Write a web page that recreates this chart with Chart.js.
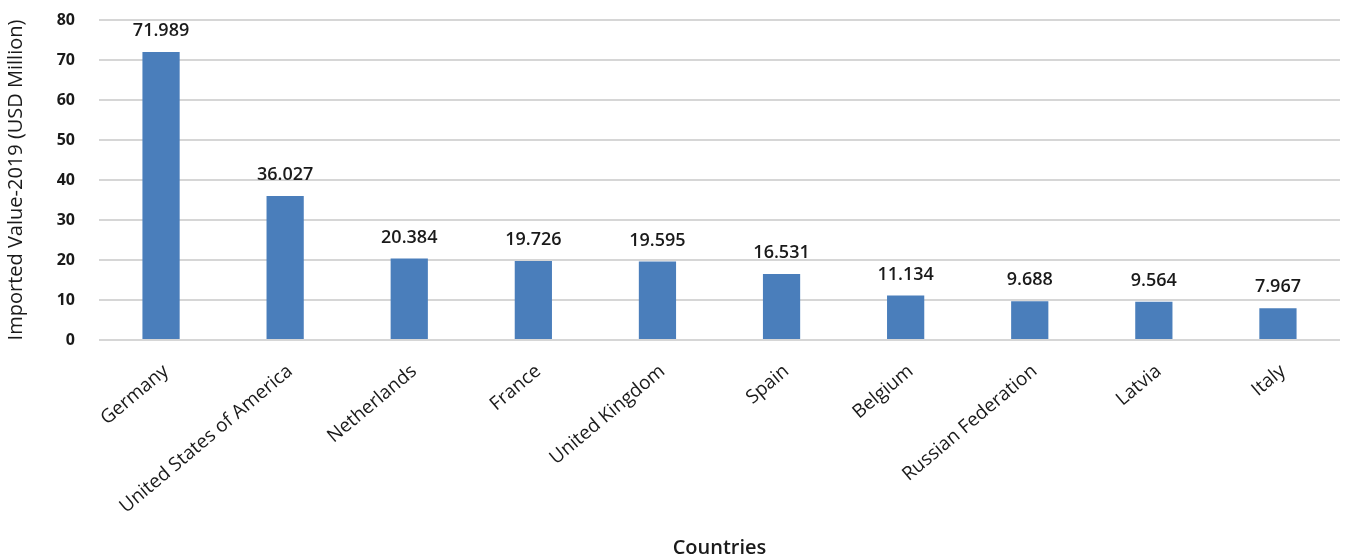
<!DOCTYPE html>
<html>
<head>
<meta charset="utf-8">
<script src="https://cdn.jsdelivr.net/npm/chart.js@4/dist/chart.umd.min.js"></script>
<style>
  html, body { margin: 0; padding: 0; background: #fff; }
  #wrap { width: 1345px; height: 560px; position: relative; }
</style>
</head>
<body>
<div id="wrap"><canvas id="importChart"></canvas></div>
<script>
// Datos
const countries = ['Germany', 'United States of America', 'Netherlands', 'France', 'United Kingdom',
  'Spain', 'Belgium', 'Russian Federation', 'Latvia', 'Italy'];
const importedValues = [71.989, 36.027, 20.384, 19.726, 19.595, 16.531, 11.134, 9.688, 9.564, 7.967];
const yTicks = [0, 10, 20, 30, 40, 50, 60, 70, 80];

const FONT = "'Open Sans', 'DejaVu Sans', sans-serif";

// Etiquetas de valor encima de cada barra
const valueLabels = {
  id: 'valueLabels',
  afterDatasetsDraw(chart) {
    const { ctx } = chart;
    const meta = chart.getDatasetMeta(0);
    ctx.save();
    ctx.font = `600 18px ${FONT}`;
    ctx.fillStyle = '#1a1a1a';
    ctx.textAlign = 'center';
    ctx.textBaseline = 'middle';
    meta.data.forEach((bar, i) => {
      ctx.fillText(importedValues[i].toFixed(3), bar.x, bar.y - 21);
    });
    ctx.restore();
  }
};

new Chart(document.getElementById('importChart'), {
  type: 'bar',
  data: {
    labels: countries,
    datasets: [{
      data: importedValues,
      backgroundColor: '#4a7ebb',
      borderWidth: 0,
      categoryPercentage: 1,
      barPercentage: 0.3
    }]
  },
  options: {
    responsive: true,
    maintainAspectRatio: false,
    animation: false,
    layout: { padding: { top: 20, right: 5, left: 0, bottom: 0 } },
    plugins: {
      legend: { display: false },
      tooltip: { enabled: false }
    },
    scales: {
      x: {
        grid: { display: false },
        border: { display: false },
        ticks: {
          font: { family: FONT, size: 19 },
          color: '#1a1a1a',
          minRotation: 40,
          maxRotation: 40,
          labelOffset: 5,
          padding: 12
        },
        title: {
          display: true,
          text: 'Countries',
          font: { family: FONT, size: 20, weight: '600' },
          color: '#1a1a1a',
          padding: { top: 0, bottom: 0 }
        },
        afterFit: (scale) => { scale.height = 220; }
      },
      y: {
        min: 0,
        max: 80,
        afterBuildTicks: (scale) => { scale.ticks = yTicks.map(v => ({ value: v })); },
        grid: {
          color: '#d6d6d6',
          lineWidth: 2,
          drawTicks: true,
          tickLength: 21,
          tickColor: 'rgba(0,0,0,0)'
        },
        border: { display: false },
        ticks: {
          font: { family: FONT, size: 16, weight: 'bold' },
          color: '#1a1a1a',
          padding: 3
        },
        title: {
          display: true,
          text: 'Imported Value-2019 (USD Million)',
          font: { family: FONT, size: 20 },
          color: '#1a1a1a',
          padding: { top: 4, bottom: 0 }
        },
        afterFit: (scale) => { scale.width = 99; }
      }
    }
  },
  plugins: [valueLabels]
});
</script>
</body>
</html>
